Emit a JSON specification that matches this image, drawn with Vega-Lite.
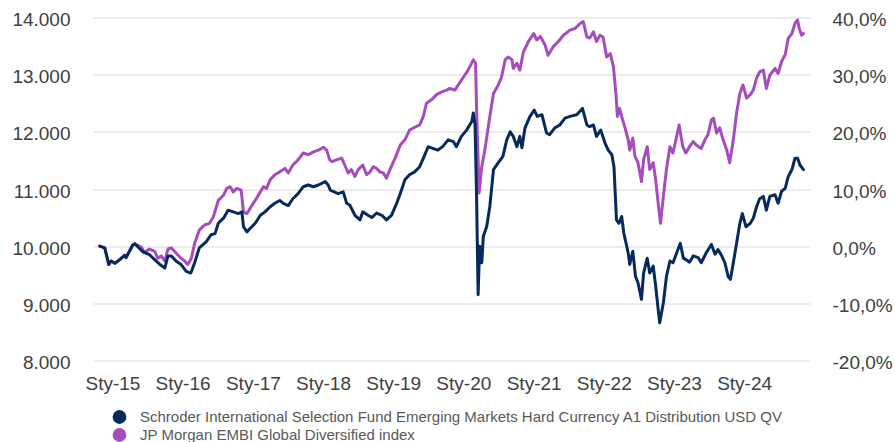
{
 "$schema": "https://vega.github.io/schema/vega-lite/v6.json",
 "width": 717,
 "height": 343,
 "autosize": {"type": "none"},
 "padding": {"left": 93, "top": 17.5, "right": 85, "bottom": 81.5},
 "background": "white",
 "config": {"view": {"stroke": null}, "font": "Liberation Sans"},
 "datasets": {
  "schroder": [
   {"date":"2014-10-27","value":10000},{"date":"2014-11-22","value":9970},{"date":"2014-12-13","value":9680},{"date":"2014-12-25","value":9740},
   {"date":"2015-01-14","value":9700},{"date":"2015-02-10","value":9770},{"date":"2015-03-05","value":9840},{"date":"2015-03-13","value":9800},
   {"date":"2015-04-01","value":9920},{"date":"2015-04-17","value":10020},{"date":"2015-04-28","value":10040},{"date":"2015-05-13","value":9990},
   {"date":"2015-06-09","value":9900},{"date":"2015-07-13","value":9850},{"date":"2015-08-17","value":9740},{"date":"2015-09-05","value":9680},
   {"date":"2015-10-01","value":9620},{"date":"2015-10-17","value":9830},{"date":"2015-11-04","value":9830},{"date":"2015-11-28","value":9740},
   {"date":"2015-12-24","value":9680},{"date":"2016-01-20","value":9560},{"date":"2016-02-13","value":9530},{"date":"2016-03-04","value":9710},
   {"date":"2016-03-28","value":9970},{"date":"2016-05-04","value":10080},{"date":"2016-05-28","value":10200},{"date":"2016-06-18","value":10220},
   {"date":"2016-07-05","value":10400},{"date":"2016-08-01","value":10490},{"date":"2016-08-25","value":10630},{"date":"2016-09-21","value":10600},
   {"date":"2016-10-17","value":10570},{"date":"2016-11-05","value":10600},{"date":"2016-11-13","value":10340},{"date":"2016-12-01","value":10250},
   {"date":"2016-12-17","value":10310},{"date":"2017-01-13","value":10400},{"date":"2017-02-09","value":10540},{"date":"2017-03-05","value":10600},
   {"date":"2017-04-01","value":10690},{"date":"2017-04-25","value":10750},{"date":"2017-05-21","value":10800},{"date":"2017-06-08","value":10750},
   {"date":"2017-07-04","value":10710},{"date":"2017-07-28","value":10830},{"date":"2017-08-24","value":10920},{"date":"2017-09-20","value":11040},
   {"date":"2017-10-16","value":11070},{"date":"2017-11-12","value":11040},{"date":"2017-12-08","value":11070},{"date":"2018-01-12","value":11130},
   {"date":"2018-01-28","value":11070},{"date":"2018-02-08","value":10980},{"date":"2018-03-20","value":10920},{"date":"2018-04-16","value":10950},
   {"date":"2018-05-04","value":10750},{"date":"2018-05-20","value":10720},{"date":"2018-06-16","value":10540},{"date":"2018-07-12","value":10460},
   {"date":"2018-07-27","value":10600},{"date":"2018-08-23","value":10540},{"date":"2018-09-12","value":10500},{"date":"2018-10-07","value":10580},
   {"date":"2018-11-03","value":10540},{"date":"2018-11-27","value":10460},{"date":"2018-12-23","value":10540},{"date":"2019-01-19","value":10750},
   {"date":"2019-02-07","value":10920},{"date":"2019-03-03","value":11160},{"date":"2019-03-27","value":11250},{"date":"2019-04-23","value":11300},
   {"date":"2019-05-19","value":11390},{"date":"2019-06-15","value":11600},{"date":"2019-07-02","value":11740},{"date":"2019-07-26","value":11710},
   {"date":"2019-08-22","value":11680},{"date":"2019-09-18","value":11750},{"date":"2019-10-14","value":11860},{"date":"2019-11-10","value":11830},
   {"date":"2019-11-26","value":11740},{"date":"2019-12-22","value":11920},{"date":"2020-01-18","value":12030},{"date":"2020-02-14","value":12180},
   {"date":"2020-02-22","value":12330},{"date":"2020-03-02","value":12130},{"date":"2020-03-10","value":10870},{"date":"2020-03-18","value":9150},
   {"date":"2020-03-26","value":10000},{"date":"2020-04-06","value":9710},{"date":"2020-04-14","value":10170},{"date":"2020-05-02","value":10350},
   {"date":"2020-05-18","value":10700},{"date":"2020-06-06","value":11340},{"date":"2020-07-01","value":11460},{"date":"2020-07-25","value":11570},
   {"date":"2020-08-14","value":11860},{"date":"2020-09-01","value":12000},{"date":"2020-09-17","value":11920},{"date":"2020-10-06","value":11740},
   {"date":"2020-10-21","value":11920},{"date":"2020-11-01","value":11720},{"date":"2020-11-17","value":12070},{"date":"2020-12-13","value":12270},
   {"date":"2021-01-04","value":12380},{"date":"2021-01-20","value":12270},{"date":"2021-02-13","value":12300},{"date":"2021-03-09","value":11980},
   {"date":"2021-03-25","value":11950},{"date":"2021-04-21","value":12070},{"date":"2021-05-17","value":12120},{"date":"2021-06-13","value":12240},
   {"date":"2021-07-09","value":12270},{"date":"2021-08-13","value":12300},{"date":"2021-09-12","value":12410},{"date":"2021-10-05","value":12120},
   {"date":"2021-10-20","value":12090},{"date":"2021-11-08","value":12120},{"date":"2021-11-24","value":11920},{"date":"2021-12-16","value":12030},
   {"date":"2022-01-08","value":11800},{"date":"2022-01-24","value":11680},{"date":"2022-02-12","value":11600},{"date":"2022-02-23","value":11390},
   {"date":"2022-03-08","value":10460},{"date":"2022-03-21","value":10400},{"date":"2022-04-04","value":10520},{"date":"2022-04-15","value":10230},
   {"date":"2022-05-08","value":9880},{"date":"2022-05-16","value":9680},{"date":"2022-06-01","value":9910},{"date":"2022-06-15","value":9470},
   {"date":"2022-06-28","value":9360},{"date":"2022-07-16","value":9070},{"date":"2022-07-27","value":9530},{"date":"2022-08-15","value":9790},
   {"date":"2022-08-28","value":9530},{"date":"2022-09-15","value":9650},{"date":"2022-09-28","value":9300},{"date":"2022-10-11","value":8890},
   {"date":"2022-10-19","value":8660},{"date":"2022-11-07","value":9010},{"date":"2022-11-23","value":9470},{"date":"2022-12-11","value":9740},
   {"date":"2022-12-27","value":9710},{"date":"2023-01-15","value":9880},{"date":"2023-02-03","value":10050},{"date":"2023-02-19","value":9790},
   {"date":"2023-03-07","value":9760},{"date":"2023-03-23","value":9720},{"date":"2023-04-11","value":9830},{"date":"2023-05-07","value":9800},
   {"date":"2023-05-23","value":9710},{"date":"2023-06-19","value":9890},{"date":"2023-07-15","value":10030},{"date":"2023-08-03","value":9860},
   {"date":"2023-08-18","value":9940},{"date":"2023-09-07","value":9830},{"date":"2023-09-23","value":9710},{"date":"2023-10-10","value":9470},
   {"date":"2023-10-22","value":9420},{"date":"2023-11-06","value":9710},{"date":"2023-11-23","value":10050},{"date":"2023-12-10","value":10400},
   {"date":"2023-12-23","value":10570},{"date":"2024-01-11","value":10340},{"date":"2024-02-02","value":10400},{"date":"2024-02-18","value":10490},
   {"date":"2024-03-06","value":10690},{"date":"2024-03-22","value":10830},{"date":"2024-04-10","value":10870},{"date":"2024-04-26","value":10630},
   {"date":"2024-05-14","value":10870},{"date":"2024-06-10","value":10900},{"date":"2024-06-26","value":10750},{"date":"2024-07-14","value":10960},
   {"date":"2024-08-02","value":11010},{"date":"2024-08-18","value":11220},{"date":"2024-09-06","value":11340},{"date":"2024-09-22","value":11540},
   {"date":"2024-10-05","value":11540},{"date":"2024-10-18","value":11420},{"date":"2024-11-05","value":11340}
  ],
  "jpm": [
   {"date":"2014-10-27","value":10000},{"date":"2014-11-22","value":9970},{"date":"2014-12-13","value":9680},{"date":"2014-12-25","value":9740},
   {"date":"2015-01-14","value":9700},{"date":"2015-02-10","value":9770},{"date":"2015-03-05","value":9840},{"date":"2015-03-13","value":9800},
   {"date":"2015-04-01","value":9920},{"date":"2015-04-17","value":10020},{"date":"2015-04-28","value":10040},{"date":"2015-06-01","value":9980},
   {"date":"2015-06-17","value":9890},{"date":"2015-07-13","value":9950},{"date":"2015-08-09","value":9910},{"date":"2015-08-25","value":9790},
   {"date":"2015-09-12","value":9830},{"date":"2015-10-01","value":9740},{"date":"2015-10-17","value":9950},{"date":"2015-11-04","value":9970},
   {"date":"2015-11-28","value":9880},{"date":"2015-12-24","value":9790},{"date":"2016-01-12","value":9740},{"date":"2016-01-28","value":9680},
   {"date":"2016-02-16","value":9790},{"date":"2016-03-04","value":10050},{"date":"2016-03-28","value":10280},{"date":"2016-04-24","value":10370},
   {"date":"2016-05-20","value":10400},{"date":"2016-06-09","value":10510},{"date":"2016-07-05","value":10800},{"date":"2016-08-01","value":10890},
   {"date":"2016-08-18","value":11010},{"date":"2016-09-05","value":11040},{"date":"2016-09-21","value":10950},{"date":"2016-10-09","value":11010},
   {"date":"2016-11-01","value":10980},{"date":"2016-11-13","value":10600},{"date":"2016-12-01","value":10570},{"date":"2016-12-17","value":10660},
   {"date":"2017-01-13","value":10800},{"date":"2017-02-09","value":10950},{"date":"2017-02-25","value":11040},{"date":"2017-03-13","value":11010},
   {"date":"2017-04-01","value":11160},{"date":"2017-04-25","value":11250},{"date":"2017-05-21","value":11300},{"date":"2017-06-17","value":11360},
   {"date":"2017-07-04","value":11280},{"date":"2017-07-28","value":11420},{"date":"2017-08-24","value":11510},{"date":"2017-09-20","value":11630},
   {"date":"2017-10-16","value":11600},{"date":"2017-11-12","value":11650},{"date":"2017-12-08","value":11680},{"date":"2018-01-04","value":11730},
   {"date":"2018-01-20","value":11680},{"date":"2018-02-05","value":11510},{"date":"2018-02-16","value":11480},{"date":"2018-03-12","value":11510},
   {"date":"2018-04-08","value":11540},{"date":"2018-04-24","value":11420},{"date":"2018-05-12","value":11280},{"date":"2018-05-28","value":11340},
   {"date":"2018-06-16","value":11220},{"date":"2018-07-03","value":11340},{"date":"2018-07-27","value":11420},{"date":"2018-08-16","value":11250},
   {"date":"2018-09-03","value":11300},{"date":"2018-09-19","value":11390},{"date":"2018-10-07","value":11360},{"date":"2018-10-23","value":11300},
   {"date":"2018-11-11","value":11280},{"date":"2018-11-27","value":11190},{"date":"2018-12-15","value":11340},{"date":"2019-01-11","value":11540},
   {"date":"2019-02-07","value":11770},{"date":"2019-03-03","value":11860},{"date":"2019-03-27","value":12030},{"date":"2019-04-23","value":12080},
   {"date":"2019-05-19","value":12120},{"date":"2019-06-07","value":12270},{"date":"2019-06-23","value":12500},{"date":"2019-07-19","value":12560},
   {"date":"2019-08-15","value":12650},{"date":"2019-09-11","value":12700},{"date":"2019-10-07","value":12730},{"date":"2019-10-22","value":12760},
   {"date":"2019-11-18","value":12730},{"date":"2019-12-06","value":12820},{"date":"2020-01-02","value":12960},{"date":"2020-01-26","value":13080},
   {"date":"2020-02-22","value":13260},{"date":"2020-03-05","value":13200},{"date":"2020-03-10","value":12380},{"date":"2020-03-18","value":11510},
   {"date":"2020-03-23","value":10930},{"date":"2020-04-06","value":11390},{"date":"2020-04-22","value":11680},{"date":"2020-05-18","value":12270},
   {"date":"2020-06-06","value":12670},{"date":"2020-07-01","value":12820},{"date":"2020-07-18","value":12960},{"date":"2020-08-06","value":13260},
   {"date":"2020-08-21","value":13310},{"date":"2020-09-10","value":13260},{"date":"2020-09-17","value":13110},{"date":"2020-10-06","value":13200},
   {"date":"2020-10-21","value":13080},{"date":"2020-11-09","value":13400},{"date":"2020-12-05","value":13580},{"date":"2021-01-01","value":13720},
   {"date":"2021-01-17","value":13610},{"date":"2021-02-05","value":13670},{"date":"2021-03-01","value":13520},{"date":"2021-03-17","value":13340},
   {"date":"2021-04-13","value":13490},{"date":"2021-05-09","value":13580},{"date":"2021-06-05","value":13690},{"date":"2021-07-09","value":13780},
   {"date":"2021-08-05","value":13810},{"date":"2021-09-01","value":13900},{"date":"2021-09-16","value":13930},{"date":"2021-10-05","value":13660},
   {"date":"2021-10-20","value":13640},{"date":"2021-11-08","value":13750},{"date":"2021-11-24","value":13580},{"date":"2021-12-12","value":13690},
   {"date":"2021-12-28","value":13660},{"date":"2022-01-16","value":13310},{"date":"2022-02-04","value":13370},{"date":"2022-02-20","value":13140},
   {"date":"2022-03-05","value":12670},{"date":"2022-03-13","value":12270},{"date":"2022-03-24","value":12410},{"date":"2022-04-09","value":12210},
   {"date":"2022-04-20","value":12090},{"date":"2022-05-08","value":11860},{"date":"2022-05-16","value":11680},{"date":"2022-06-01","value":11890},
   {"date":"2022-06-12","value":11570},{"date":"2022-06-28","value":11460},{"date":"2022-07-16","value":11130},{"date":"2022-07-27","value":11510},
   {"date":"2022-08-15","value":11740},{"date":"2022-08-28","value":11340},{"date":"2022-09-15","value":11460},{"date":"2022-09-28","value":11160},
   {"date":"2022-10-11","value":10750},{"date":"2022-10-23","value":10400},{"date":"2022-11-07","value":10870},{"date":"2022-11-23","value":11340},
   {"date":"2022-12-11","value":11740},{"date":"2022-12-27","value":11630},{"date":"2023-01-15","value":11920},{"date":"2023-01-28","value":12120},
   {"date":"2023-02-16","value":11740},{"date":"2023-03-04","value":11630},{"date":"2023-03-23","value":11740},{"date":"2023-04-11","value":11830},
   {"date":"2023-04-27","value":11770},{"date":"2023-05-23","value":11710},{"date":"2023-06-11","value":11860},{"date":"2023-06-27","value":11950},
   {"date":"2023-07-15","value":12210},{"date":"2023-07-26","value":12240},{"date":"2023-08-11","value":11980},{"date":"2023-08-27","value":12070},
   {"date":"2023-09-14","value":11860},{"date":"2023-10-03","value":11680},{"date":"2023-10-18","value":11460},{"date":"2023-11-06","value":11860},
   {"date":"2023-11-23","value":12330},{"date":"2023-12-10","value":12670},{"date":"2023-12-26","value":12820},{"date":"2024-01-14","value":12590},
   {"date":"2024-02-02","value":12650},{"date":"2024-02-18","value":12730},{"date":"2024-03-06","value":12940},{"date":"2024-03-22","value":13050},
   {"date":"2024-04-10","value":13080},{"date":"2024-04-26","value":12760},{"date":"2024-05-14","value":12990},{"date":"2024-06-10","value":13110},
   {"date":"2024-06-26","value":13020},{"date":"2024-07-14","value":13230},{"date":"2024-08-02","value":13350},{"date":"2024-08-18","value":13640},
   {"date":"2024-09-06","value":13720},{"date":"2024-09-22","value":13900},{"date":"2024-10-05","value":13960},{"date":"2024-10-14","value":13810},
   {"date":"2024-10-26","value":13690},{"date":"2024-11-05","value":13720}
  ]
 },
 "encoding": {
  "x": {
   "field": "date", "type": "temporal",
   "scale": {"type": "utc", "domain": [{"year": 2014, "month": 9, "date": 22, "utc": true}, {"year": 2024, "month": 12, "date": 9, "utc": true}]},
   "axis": {"title": null, "grid": false, "domain": false, "ticks": false, "labelFlush": false, "labelOverlap": false,
    "labelFontSize": 19, "labelColor": "#404040", "labelPadding": 14,
    "tickCount": {"interval": "year", "step": 1},
    "labelExpr": "'Sty-' + utcFormat(datum.value, '%y')"}
  }
 },
 "layer": [
  {
   "data": {"name": "jpm"},
   "mark": {"type": "line", "strokeWidth": 3, "strokeJoin": "round", "strokeCap": "round"},
   "encoding": {
    "y": {"field": "value", "type": "quantitative",
     "scale": {"domain": [8000, 14000], "nice": false, "zero": false},
     "axis": {"title": null, "orient": "left", "values": [8000, 9000, 10000, 11000, 12000, 13000, 14000],
      "grid": true, "gridColor": "#d9d9d9", "gridWidth": 1.2, "domain": false, "ticks": false,
      "labelFontSize": 19, "labelColor": "#404040", "labelPadding": 23, "labelOffset": 2,
      "labelExpr": "replace(format(datum.value, ','), ',', '.')"}},
    "color": {"datum": "JP Morgan EMBI Global Diversified index",
     "scale": {"domain": ["Schroder International Selection Fund Emerging Markets Hard Currency A1 Distribution USD QV", "JP Morgan EMBI Global Diversified index"], "range": ["#062a5c", "#a64cbf"]},
     "legend": {"title": null, "orient": "none", "legendX": 19, "legendY": 392, "direction": "vertical",
      "symbolType": "circle", "symbolSize": 190, "symbolStrokeWidth": 0, "labelFontSize": 15, "labelColor": "#595959",
      "labelOffset": 13, "labelLimit": 1000, "rowPadding": 2,
      "encode": {"symbols": {"update": {"fill": {"scale": "color", "field": "value"}, "fillOpacity": {"value": 1}, "opacity": {"value": 1}}}}}}
   }
  },
  {
   "data": {"name": "schroder"},
   "mark": {"type": "line", "strokeWidth": 3, "strokeJoin": "round", "strokeCap": "round"},
   "encoding": {
    "y": {"field": "value", "type": "quantitative",
     "scale": {"domain": [8000, 14000], "nice": false, "zero": false},
     "axis": {"title": null, "orient": "right", "values": [8000, 9000, 10000, 11000, 12000, 13000, 14000],
      "grid": false, "domain": false, "ticks": false,
      "labelFontSize": 19, "labelColor": "#404040", "labelPadding": 22, "labelOffset": 2,
      "labelExpr": "replace(replace(format(datum.value / 10000 - 1, '.1%'), '.', ','), '\u2212', '-')"}},
    "color": {"datum": "Schroder International Selection Fund Emerging Markets Hard Currency A1 Distribution USD QV"}
   }
  }
 ],
 "resolve": {"scale": {"y": "independent"}}
}
